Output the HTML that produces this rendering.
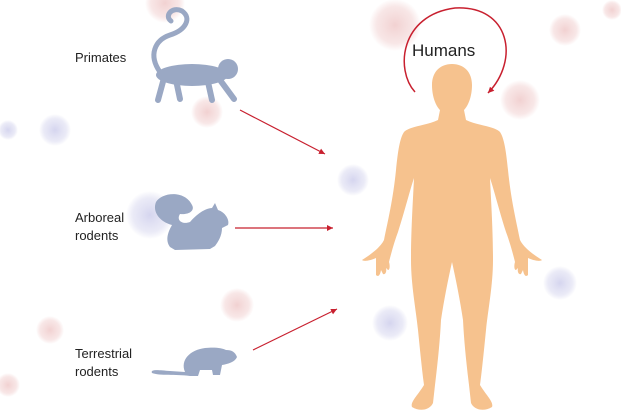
<!DOCTYPE html>
<html><head><style>
html,body{margin:0;padding:0;background:#fff;}
svg{display:block}
text{font-family:"Liberation Sans",sans-serif;fill:#222}
</style></head><body>
<svg width="621" height="415" viewBox="0 0 621 415" xmlns="http://www.w3.org/2000/svg">
<defs>
<radialGradient id="vp"><stop offset="0" stop-color="#f0cccc" stop-opacity=".9"/><stop offset=".7" stop-color="#f3d6d6" stop-opacity=".6"/><stop offset="1" stop-color="#f3d3d3" stop-opacity="0"/></radialGradient>
<radialGradient id="vb"><stop offset="0" stop-color="#d3d3ee" stop-opacity=".95"/><stop offset=".7" stop-color="#dcdcf1" stop-opacity=".6"/><stop offset="1" stop-color="#d8d8ef" stop-opacity="0"/></radialGradient>
<marker id="ah" markerWidth="8" markerHeight="8" refX="6" refY="3" orient="auto" markerUnits="userSpaceOnUse"><path d="M0,0 L6,3 L0,6 Z" fill="#c8202f"/></marker>
</defs>
<!-- viruses -->
<circle cx="165" cy="3" r="20" fill="url(#vp)"/>
<circle cx="395" cy="25" r="26" fill="url(#vp)"/>
<circle cx="520" cy="100" r="20" fill="url(#vp)"/>
<circle cx="565" cy="30" r="16" fill="url(#vp)"/>
<circle cx="207" cy="112" r="16" fill="url(#vp)"/>
<circle cx="55" cy="130" r="16" fill="url(#vb)"/>
<circle cx="8" cy="130" r="10" fill="url(#vb)"/>
<circle cx="353" cy="180" r="16" fill="url(#vb)"/>
<circle cx="150" cy="215" r="24" fill="url(#vb)"/>
<circle cx="237" cy="305" r="17" fill="url(#vp)"/>
<circle cx="50" cy="330" r="14" fill="url(#vp)"/>
<circle cx="390" cy="323" r="18" fill="url(#vb)"/>
<circle cx="560" cy="283" r="17" fill="url(#vb)"/>
<circle cx="612" cy="10" r="10" fill="url(#vp)"/>
<circle cx="8" cy="385" r="12" fill="url(#vp)"/>
<!-- human -->
<g fill="#f6c28e">
<path id="hh" d="M452,64 C440,64 432,72 432,85 C432,97 436,106 440,110 L438,120 C425,126 410,126 404,132 C400,138 398,150 396,170 C393,200 388,220 384,240 C380,248 370,255 362,260 C364,262 372,260 376,258 L376,275 C378,277 380,276 381,270 L383,274 C385,275 387,272 386,268 L388,270 C390,270 390,265 389,262 C392,250 395,240 398,232 C405,210 410,190 414,178 C413,200 411,230 411,260 C411,285 416,310 418,330 C420,350 422,370 424,385 C418,395 410,402 412,407 C420,412 430,410 433,403 L435,385 C438,360 440,340 441,320 C444,300 448,280 452,262 Z"/>
<use href="#hh" transform="translate(904,0) scale(-1,1)"/>
</g>
<!-- humans loop -->
<path d="M415,92 C395,70 400,15 455,8 C510,5 520,60 488,93" fill="none" stroke="#c8202f" stroke-width="1.5" marker-end="url(#ah)"/>
<text x="412" y="56" font-size="17">Humans</text>
<!-- animals -->
<g fill="#9aa8c4">
<!-- monkey -->
<path d="M160,72 C148,55 155,40 170,35 C186,30 192,18 182,11 C172,6 164,16 171,21" fill="none" stroke="#9aa8c4" stroke-width="5" stroke-linecap="round"/>
<ellipse cx="192" cy="75" rx="36" ry="11"/>
<circle cx="228" cy="69" r="10"/>
<g stroke="#9aa8c4" stroke-width="6" stroke-linecap="round" fill="none">
<path d="M164,78 L158,100"/>
<path d="M176,80 L180,99"/>
<path d="M208,82 L212,100"/>
<path d="M220,80 L234,99"/>
</g>
<!-- squirrel -->
<path d="M170,247 C165,240 168,232 172,225 C160,222 152,212 156,202 C162,192 185,190 192,205 C195,210 190,215 180,214 C176,220 182,225 190,222 C196,215 205,208 212,208 L215,203 L218,210 C225,212 230,220 228,225 L222,228 C222,236 218,242 215,246 L210,249 L175,250 Z"/>
<!-- mouse -->
<path d="M185,372 C180,360 190,350 205,348 C215,347 222,348 226,350 C232,350 235,352 237,357 C235,362 228,364 222,365 L220,375 L213,375 L212,370 L200,370 L198,376 L190,376 C175,374 160,376 152,373 C150,369 158,370 170,371 Z"/>
</g>
<!-- arrows -->
<g stroke="#c8202f" stroke-width="1.2" fill="none" marker-end="url(#ah)">
<line x1="240" y1="110" x2="325" y2="154"/>
<line x1="235" y1="228" x2="333" y2="228"/>
<line x1="253" y1="350" x2="337" y2="309"/>
</g>
<g font-size="13">
<text x="75" y="62">Primates</text>
<text x="75" y="222">Arboreal</text>
<text x="75" y="240">rodents</text>
<text x="75" y="358">Terrestrial</text>
<text x="75" y="376">rodents</text>
</g>
</svg>
</body></html>
